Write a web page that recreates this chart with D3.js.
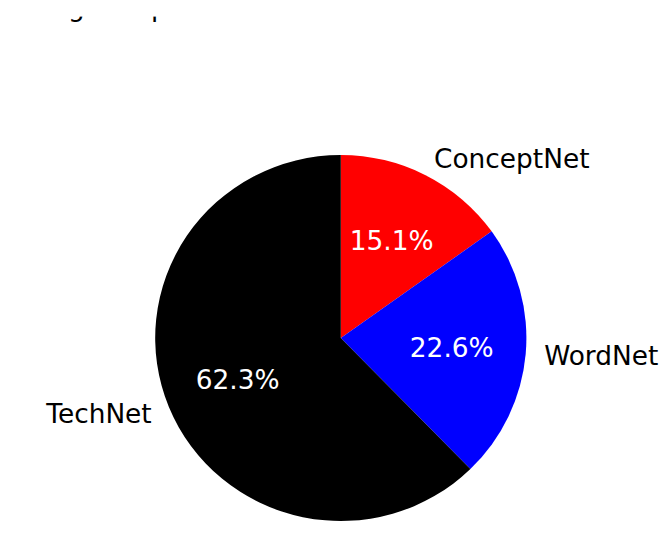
<!DOCTYPE html>
<html>
<head>
<meta charset="utf-8">
<script src="https://cdn.jsdelivr.net/npm/d3@7"></script>
<style>
  body { margin: 0; background: #fff; }
  svg { display: block; font-family: "DejaVu Sans", sans-serif; }
</style>
</head>
<body>
<div id="chart"></div>
<script>
// slices go clockwise from 12 o'clock
const labels = ['ConceptNet', 'WordNet', 'TechNet'];
const shares = [15.1, 22.6, 62.3];
const colors = ['#ff0000', '#0000ff', '#000000'];
const title = 'Origin of phrases in the dataset';

const width = 663, height = 552;
const cx = 340.8, cy = 338, ry = 183, rx = 185.6;
const fs = 26.4;

const svg = d3.select('#chart').append('svg')
	.attr('width', width)
	.attr('height', height);

// title is cropped at the top in the reference, only descenders show
svg.append('text')
	.attr('x', 29)
	.attr('y', 15.5)
	.attr('font-size', fs)
	.text(title);
svg.append('rect')
	.attr('width', width)
	.attr('height', 16.6)
	.attr('fill', '#fff');

const pie = d3.pie().sort(null).value(d => d);
const arcs = pie(shares);
const arc = d3.arc().innerRadius(0).outerRadius(ry);

const g = svg.append('g')
	.attr('transform', 'translate(' + cx + ',' + cy + ')');

// picture is stretched a little sideways
g.append('g')
	.attr('transform', 'scale(' + (rx / ry) + ',1)')
	.selectAll('path')
	.data(arcs)
	.enter().append('path')
	.attr('d', arc)
	.attr('fill', (d, i) => colors[i]);

function pos(d, k) {
	let a = (d.startAngle + d.endAngle) / 2;
	return [Math.sin(a) * rx * k, -Math.cos(a) * ry * k];
}

// outer labels at 1.1 r, anchored away from the centre
g.selectAll('.lbl')
	.data(arcs)
	.enter().append('text')
	.attr('class', 'lbl')
	.attr('x', d => pos(d, 1.1)[0])
	.attr('y', d => pos(d, 1.1)[1])
	.attr('dy', '0.35em')
	.attr('font-size', fs)
	.attr('text-anchor', d => pos(d, 1)[0] > 0 ? 'start' : 'end')
	.text((d, i) => labels[i]);

// percentages at 0.6 r
g.selectAll('.pct')
	.data(arcs)
	.enter().append('text')
	.attr('class', 'pct')
	.attr('x', d => pos(d, 0.6)[0])
	.attr('y', d => pos(d, 0.6)[1])
	.attr('dy', '0.35em')
	.attr('font-size', fs)
	.attr('fill', '#fff')
	.attr('text-anchor', 'middle')
	.text(d => d.value.toFixed(1) + '%');
</script>
</body>
</html>
